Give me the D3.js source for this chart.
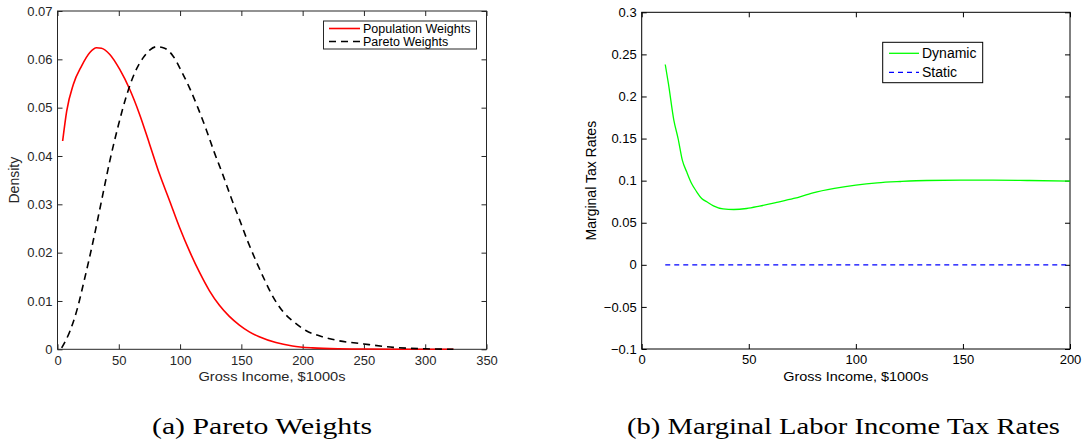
<!DOCTYPE html>
<html lang="en">
<head>
<meta charset="UTF-8">
<title>Pareto Weights / Marginal Tax Rates</title>
<script src="https://d3js.org/d3.v7.min.js"></script>
<style>
    body { margin: 0; background: #fff; }
    .tick text { font-family: "Liberation Sans", Arial, sans-serif; }
    .lbl { font-family: "Liberation Sans", Arial, sans-serif; }
    .cap { font-family: "Liberation Serif", "Times New Roman", serif; }
</style>
</head>
<body>
<div id="chart"></div>
<script>
// panel (a): density of gross income
const popX = [4.2, 7.5, 12.9, 19.6, 26.4, 31.8, 35.9, 42.7, 50.8, 58.9, 67, 75.2, 83.3, 91.5, 99.6, 107.7, 115.9, 124, 132.1, 140.2, 148.4, 156.5, 164.6, 178.2, 191.7, 208, 230, 250, 280, 323];
const popY = [0.0431, 0.0493, 0.0548, 0.0586, 0.0614, 0.0624, 0.0623, 0.061, 0.0579, 0.0538, 0.0486, 0.0424, 0.0362, 0.0307, 0.0252, 0.0203, 0.0159, 0.0121, 0.0091, 0.0068, 0.005, 0.0036, 0.0026, 0.0014, 0.0007, 0.0003, 0.0001, 0.00005, 0.00001, 0];
const paretoX = [3.4, 10.2, 15.6, 22.3, 29.1, 35.9, 42.7, 49.5, 56.2, 63, 69.8, 75.2, 80.6, 87.4, 94.2, 101, 107.7, 114.5, 121.3, 128, 134.8, 141.6, 148.4, 155.1, 161.9, 168.7, 175.5, 183.6, 191.7, 202.6, 216.1, 227, 250, 274, 300, 323];
const paretoY = [0.0003, 0.0038, 0.0079, 0.0148, 0.0224, 0.0307, 0.039, 0.0462, 0.0524, 0.0572, 0.0603, 0.0619, 0.0626, 0.0623, 0.0607, 0.0576, 0.0541, 0.05, 0.0455, 0.0407, 0.0362, 0.0314, 0.0269, 0.0224, 0.0183, 0.0145, 0.011, 0.0079, 0.0059, 0.0039, 0.0026, 0.0019, 0.0011, 0.0004, 0.0001, 0];
const densTicksX = [0, 50, 100, 150, 200, 250, 300, 350];
const densTicksY = [0, 0.01, 0.02, 0.03, 0.04, 0.05, 0.06, 0.07];

// panel (b): marginal tax rates
const dynX = [11, 12.5, 15, 17, 19, 21, 23.3, 25.7, 28, 30.4, 33.5, 38, 43, 49, 55, 63, 71, 80, 90, 100, 110, 121, 133, 149, 164, 180, 200];
const dynY = [0.238, 0.215, 0.172, 0.150, 0.124, 0.1105, 0.0966, 0.0867, 0.0788, 0.0749, 0.0701, 0.0665, 0.0657, 0.0669, 0.0697, 0.0741, 0.0788, 0.0855, 0.0907, 0.0947, 0.0974, 0.099, 0.1002, 0.1006, 0.1006, 0.1002, 0.0994];
const staticX = [11, 200];
const staticY = [0, 0];
const taxTicksX = [0, 50, 100, 150, 200];
const taxTicksY = [-0.1, -0.05, 0, 0.05, 0.1, 0.15, 0.2, 0.25, 0.3];

const W = 1083, H = 444;
const svg = d3.select('#chart').append('svg')
    .attr('width', W).attr('height', H);
svg.append('rect').attr('width', W).attr('height', H).attr('fill', '#fff');

const zip = (xs, ys) => xs.map((x, i) => [x, ys[i]]);
const fmt = v => v === 0 ? '0' : String(v).replace('-', '\u2212');

// draws a boxed matlab-style axes, returns scales
function panel(opt) {
    const x = d3.scaleLinear().domain(opt.xDom).range([opt.left, opt.right]);
    const y = d3.scaleLinear().domain(opt.yDom).range([opt.bottom, opt.top]);
    const g = svg.append('g');
    const col = opt.axisColor;

    const styleAxis = sel => {
        sel.select('.domain').remove();
        sel.selectAll('line').attr('stroke', col);
        sel.selectAll('text').attr('fill', col).style('font-size', '13px');
    };

    g.append('g').attr('transform', `translate(0,${opt.bottom})`)
        .call(d3.axisBottom(x).tickValues(opt.xTicks).tickFormat(fmt).tickSizeInner(-5).tickSizeOuter(0).tickPadding(6))
        .call(styleAxis);
    g.append('g').attr('transform', `translate(0,${opt.top})`)
        .call(d3.axisTop(x).tickValues(opt.xTicks).tickFormat('').tickSizeInner(-5).tickSizeOuter(0))
        .call(styleAxis);
    g.append('g').attr('transform', `translate(${opt.left},0)`)
        .call(d3.axisLeft(y).tickValues(opt.yTicks).tickFormat(fmt).tickSizeInner(-5).tickSizeOuter(0).tickPadding(5))
        .call(styleAxis);
    g.append('g').attr('transform', `translate(${opt.right},0)`)
        .call(d3.axisRight(y).tickValues(opt.yTicks).tickFormat('').tickSizeInner(-5).tickSizeOuter(0))
        .call(styleAxis);

    g.append('rect')
        .attr('x', opt.left).attr('y', opt.top)
        .attr('width', opt.right - opt.left).attr('height', opt.bottom - opt.top)
        .attr('fill', 'none').attr('stroke', col).attr('stroke-width', 1);

    // axis labels
    g.append('text').attr('class', 'lbl')
        .attr('x', (opt.left + opt.right) / 2).attr('y', 381)
        .attr('text-anchor', 'middle').attr('fill', col)
        .attr('textLength', opt.xLabelW).attr('lengthAdjust', 'spacingAndGlyphs')
        .style('font-size', '13.5px')
        .text(opt.xLabel);
    g.append('text').attr('class', 'lbl')
        .attr('transform', `translate(${opt.yLabelX},${(opt.top + opt.bottom) / 2}) rotate(-90)`)
        .attr('text-anchor', 'middle').attr('fill', col)
        .style('font-size', opt.yLabelSize)
        .text(opt.yLabel);

    // caption
    g.append('text').attr('class', 'cap')
        .attr('x', opt.capX).attr('y', 434)
        .attr('textLength', opt.capW).attr('lengthAdjust', 'spacingAndGlyphs')
        .attr('fill', '#000')
        .style('font-size', '23px')
        .text(opt.caption);

    return { x, y, g };
}

function legend(g, items, box, fontSize) {
    g.append('rect')
        .attr('x', box.x).attr('y', box.y).attr('width', box.w).attr('height', box.h)
        .attr('fill', '#fff').attr('stroke', box.color).attr('stroke-width', 1);
    items.forEach((it, i) => {
        const yy = box.rowY[i];
        g.append('line')
            .attr('x1', box.lx1).attr('x2', box.lx2).attr('y1', yy).attr('y2', yy)
            .attr('stroke', it.color).attr('stroke-width', it.width)
            .attr('stroke-dasharray', it.dash || null);
        g.append('text').attr('class', 'lbl')
            .attr('x', box.lx2 + 3).attr('y', yy).attr('dy', '0.35em')
            .attr('fill', box.textColor)
            .style('font-size', fontSize)
            .text(it.name);
    });
}

// ---- panel (a)
const pa = panel({
    xDom: [0, 350], yDom: [0, 0.07],
    left: 57.5, right: 486.5, top: 11, bottom: 349.3,
    xTicks: densTicksX, yTicks: densTicksY,
    axisColor: '#262626',
    xLabel: 'Gross Income, $1000s', xLabelW: 147, yLabel: 'Density',
    yLabelX: 19, yLabelSize: '14px',
    caption: '(a) Pareto Weights', capX: 152, capW: 220
});
const lineA = d3.line().x(d => pa.x(d[0])).y(d => pa.y(d[1])).curve(d3.curveMonotoneX);
pa.g.append('path').datum(zip(popX, popY))
    .attr('d', lineA).attr('fill', 'none').attr('stroke', '#ff0000').attr('stroke-width', 1.6);
pa.g.append('path').datum(zip(paretoX, paretoY))
    .attr('d', lineA).attr('fill', 'none').attr('stroke', '#000').attr('stroke-width', 1.6)
    .attr('stroke-dasharray', '7,5');
legend(pa.g, [
    { name: 'Population Weights', color: '#ff0000', width: 1.6 },
    { name: 'Pareto Weights', color: '#000', width: 1.6, dash: '7,5' }
], { x: 323.5, y: 21, w: 153, h: 28, lx1: 329, lx2: 360, rowY: [28.5, 41.5], color: '#262626', textColor: '#000' }, '12.5px');

// ---- panel (b)
const pb = panel({
    xDom: [0, 200], yDom: [-0.1, 0.3],
    left: 641.7, right: 1070, top: 12.3, bottom: 349,
    xTicks: taxTicksX, yTicks: taxTicksY,
    axisColor: '#000',
    xLabel: 'Gross Income, $1000s', xLabelW: 145, yLabel: 'Marginal Tax Rates',
    yLabelX: 596, yLabelSize: '14px',
    caption: '(b) Marginal Labor Income Tax Rates', capX: 627, capW: 433
});
const lineB = d3.line().x(d => pb.x(d[0])).y(d => pb.y(d[1])).curve(d3.curveMonotoneX);
pb.g.append('path').datum(zip(dynX, dynY))
    .attr('d', lineB).attr('fill', 'none').attr('stroke', '#00ff00').attr('stroke-width', 1.3);
pb.g.append('path').datum(zip(staticX, staticY))
    .attr('d', lineB).attr('fill', 'none').attr('stroke', '#0000ff').attr('stroke-width', 1.3)
    .attr('stroke-dasharray', '5,4');
legend(pb.g, [
    { name: 'Dynamic', color: '#00ff00', width: 1.3 },
    { name: 'Static', color: '#0000ff', width: 1.3, dash: '5,4' }
], { x: 882.7, y: 42.3, w: 100, h: 40.4, lx1: 889, lx2: 919, rowY: [53.3, 72.3], color: '#000', textColor: '#000' }, '14px');
</script>
</body>
</html>
